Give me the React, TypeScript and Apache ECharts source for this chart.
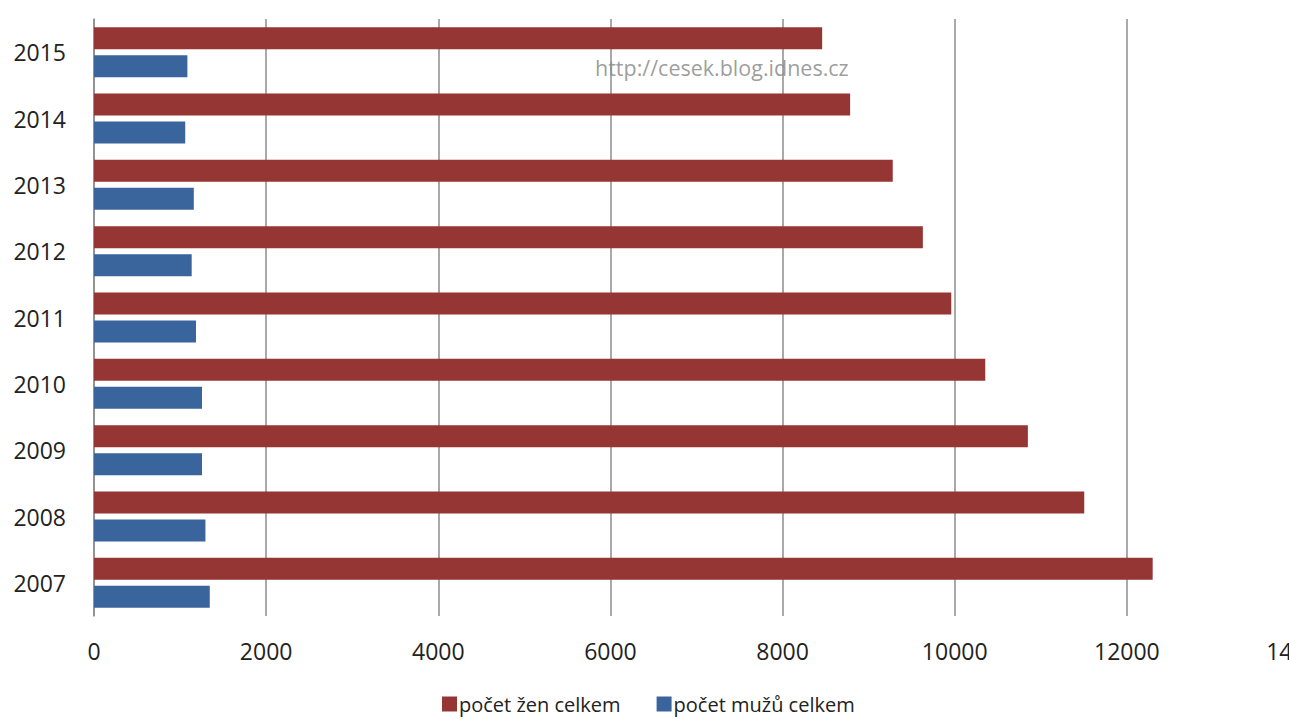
import React, { useEffect, useRef } from "react";
import * as echarts from "echarts";

const years = ["2007", "2008", "2009", "2010", "2011", "2012", "2013", "2014", "2015"];
const zenyCelkem = [12300, 11505, 10850, 10355, 9960, 9630, 9280, 8785, 8460];
const muziCelkem = [1345, 1295, 1255, 1255, 1185, 1135, 1160, 1060, 1085];
const xTicks = [0, 2000, 4000, 6000, 8000, 10000, 12000, 14000];

const RED = "#963634";
const BLUE = "#3A659C";
const FONT = "'Open Sans', 'DejaVu Sans', sans-serif";

export default function App() {
  const ref = useRef<HTMLDivElement>(null);

  useEffect(() => {
    if (!ref.current) return;
    document.body.style.margin = "0";
    const chart = echarts.init(ref.current, null, { renderer: "svg" });
    chart.setOption({
      animation: false,
      backgroundColor: "#ffffff",
      textStyle: { fontFamily: FONT },
      grid: {
        left: 94,
        right: -10,
        top: 19,
        bottom: 103,
        containLabel: false,
        outerBoundsMode: "none",
      },
      legend: {
        data: ["počet žen celkem", "počet mužů celkem"],
        left: 437,
        top: 689,
        itemWidth: 15,
        itemHeight: 15,
        itemGap: 36,
        icon: "rect",
        textStyle: { fontSize: 20, color: "#222", fontFamily: FONT, padding: [0, 0, 0, -3] },
      },
      xAxis: {
        type: "value",
        min: xTicks[0],
        max: xTicks[xTicks.length - 1],
        interval: 2000,
        axisLine: { show: false },
        axisTick: { show: false },
        splitLine: { show: true, lineStyle: { color: "#8c8c8c", width: 1.5 } },
        axisLabel: {
          fontSize: 23,
          color: "#222",
          margin: 23,
          fontFamily: FONT,
          hideOverlap: false,
          formatter: (v: number) => String(v),
        },
      },
      yAxis: {
        type: "category",
        data: years,
        axisLine: { show: true, lineStyle: { color: "#8c8c8c", width: 1.5 } },
        axisTick: { show: false },
        axisLabel: { fontSize: 23, color: "#222", margin: 28, fontFamily: FONT },
      },
      graphic: [
        {
          type: "text",
          left: 595,
          top: 56,
          z: 100,
          style: {
            text: "http://cesek.blog.idnes.cz",
            fill: "rgba(140,140,140,0.85)",
            font: "21.5px 'Open Sans', sans-serif",
          },
        },
      ],
      series: [
        {
          name: "počet žen celkem",
          type: "bar",
          data: zenyCelkem,
          barWidth: 22,
          barGap: "27%",
          itemStyle: { color: RED },
        },
        {
          name: "počet mužů celkem",
          type: "bar",
          data: muziCelkem,
          barWidth: 22,
          barGap: "27%",
          itemStyle: { color: BLUE },
        },
      ],
    });
    return () => chart.dispose();
  }, []);

  return (
    <div
      ref={ref}
      style={{ position: "fixed", left: 0, top: 0, width: 1289, height: 719 }}
    />
  );
}
